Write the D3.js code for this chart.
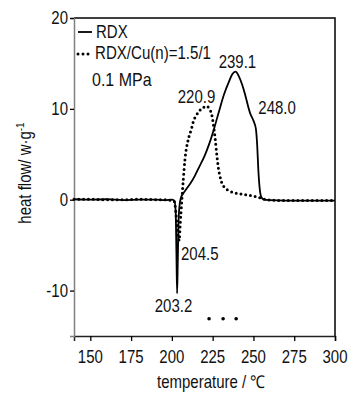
<!DOCTYPE html>
<html lang="en">
<head>
    <meta charset="UTF-8">
    <title>DSC curves</title>
    <script src="https://d3js.org/d3.v7.min.js"></script>
    <style>
        body { margin: 0; background: #fff; }
        text { font-family: "Liberation Sans", Arial, sans-serif; fill: #111; }
        .curve { fill: none; stroke: #000; stroke-linejoin: round; }
    </style>
</head>
<body>
<div id="chart"></div>
<script>
    // temperature (°C) / heat flow (W/g)
    const rdxT = [140, 150, 160, 170, 180, 190, 196, 200, 201.5, 202.3, 202.8, 203.2, 203.6, 204.0, 204.6, 205.5, 207, 209, 211, 214, 217, 220, 223, 226, 229, 232, 235, 237, 239.1, 241, 243, 245, 247, 248, 250, 251.5, 252.3, 253, 253.8, 254.6, 256, 260, 270, 280, 290, 300];
    const rdxQ = [0.05, 0.0, 0.05, -0.05, 0.0, 0.0, -0.05, 0.0, -0.1, -1.2, -6, -10.3, -7, -3, -0.8, 0.2, 0.7, 1.2, 1.7, 2.6, 3.7, 4.8, 6.2, 7.9, 9.8, 11.6, 13.0, 13.8, 14.1, 13.6, 12.7, 11.5, 10.1, 9.5, 8.7, 7.8, 6.0, 3.3, 1.3, 0.4, 0.05, -0.05, -0.1, -0.1, -0.1, -0.1];

    const cuT = [140, 150, 160, 170, 180, 190, 196, 201.5, 203, 204, 204.5, 205, 206, 207, 208, 210, 212, 213, 215, 217, 219, 221, 223, 224.5, 225.5, 226.5, 227.5, 228.5, 230, 232, 235, 240, 245, 250, 255, 258, 270, 280, 290, 300];
    const cuQ = [0.05, 0.05, 0.0, 0.0, 0.05, 0.0, 0.0, -0.2, -2.5, -4.1, -4.5, -3.0, -0.3, 2.2, 4.4, 6.6, 7.8, 8.5, 9.3, 9.8, 10.1, 10.3, 10.0, 9.3, 8.2, 6.8, 5.0, 3.5, 2.2, 1.4, 1.0, 0.7, 0.55, 0.4, 0.15, 0.0, -0.1, -0.1, -0.1, -0.1];

    const peakLabels = ["239.1", "220.9", "248.0", "204.5", "203.2"];
    const peakX = [240.2, 215.1, 264.5, 205.6, 201.0];
    const peakY = [14.5, 10.65, 9.4, -6.6, -12.4];

    const extraDotsT = [222.8, 231.4, 239.4];
    const extraDotsQ = [-13.1, -13.1, -13.1];

    const xTicks = [150, 175, 200, 225, 250, 275, 300];
    const yTicks = [-10, 0, 10, 20];

    const width = 353, height = 393;
    const margin = { top: 18, right: 18, bottom: 57, left: 74 };

    const svg = d3.select("#chart").append("svg")
        .attr("width", width)
        .attr("height", height);

    const x = d3.scaleLinear().domain([140, 300]).range([margin.left, width - margin.right]);
    const y = d3.scaleLinear().domain([-15, 20]).range([height - margin.bottom, margin.top]);

    // text is drawn a little taller than it is wide, like the original
    function label(txt, px, py, anchor, size) {
        return svg.append("text")
            .attr("transform", `translate(${px},${py}) scale(1,1.18)`)
            .attr("text-anchor", anchor || "start")
            .style("font-size", (size || 15) + "px")
            .text(txt);
    }

    // frame: top and right borders
    svg.append("path")
        .attr("d", `M${x(140)},${y(20)}H${x(300)}V${y(-15)}`)
        .attr("fill", "none")
        .attr("stroke", "#000")
        .attr("stroke-width", 1.5);

    // axes
    const xAxis = svg.append("g")
        .attr("transform", `translate(0,${y(-15)})`)
        .call(d3.axisBottom(x).tickValues(xTicks).tickSize(5).tickFormat(""));
    xAxis.select(".domain").attr("stroke", "#222").attr("stroke-width", 1.5);
    xAxis.selectAll(".tick line").attr("stroke-width", 1.3);

    const yAxis = svg.append("g")
        .attr("transform", `translate(${x(140)},0)`)
        .call(d3.axisLeft(y).tickValues(yTicks).tickSize(4).tickFormat(""));
    yAxis.select(".domain").attr("stroke", "#808080").attr("stroke-width", 1.5);
    yAxis.selectAll(".tick line").attr("stroke-width", 1.3);

    xTicks.forEach(t => label(t, x(t), y(-15) + 27, "middle"));
    yTicks.forEach(t => label(t, x(140) - 6, y(t) + 6, "end"));

    label("temperature / \u2103", 211, 388, "middle");

    const yTitle = svg.append("text")
        .attr("transform", `translate(31,${(y(20) + y(-15)) / 2 - 4}) rotate(-90) scale(1,1.18)`)
        .attr("text-anchor", "middle")
        .style("font-size", "15px");
    yTitle.append("tspan").text("heat flow/ w\u00b7g");
    yTitle.append("tspan").attr("dy", -6).style("font-size", "10px").text("-1");

    const line = d3.line()
        .x(d => x(d[0]))
        .y(d => y(d[1]))
        .curve(d3.curveMonotoneX);

    svg.append("path")
        .datum(rdxT.map((t, i) => [t, rdxQ[i]]))
        .attr("class", "curve")
        .attr("stroke-width", 1.8)
        .attr("d", line);

    svg.append("path")
        .datum(cuT.map((t, i) => [t, cuQ[i]]))
        .attr("class", "curve")
        .attr("stroke-width", 3)
        .attr("stroke-linecap", "round")
        .attr("stroke-dasharray", "0,4.8")
        .attr("d", line);

    // legend
    svg.append("line")
        .attr("x1", 78).attr("x2", 92).attr("y1", 32).attr("y2", 32)
        .attr("stroke", "#000").attr("stroke-width", 1.8);
    label("RDX", 96, 38);
    svg.append("line")
        .attr("x1", 78).attr("x2", 92).attr("y1", 54).attr("y2", 54)
        .attr("stroke", "#000").attr("stroke-width", 3)
        .attr("stroke-linecap", "round").attr("stroke-dasharray", "0,5");
    label("RDX/Cu(n)=1.5/1", 95, 59)
        .attr("textLength", 116)
        .attr("lengthAdjust", "spacingAndGlyphs");
    label("0.1 MPa", 92, 86, "start", 16);

    // peak temperatures
    peakLabels.forEach((s, i) => {
        label(s, x(peakX[i]), y(peakY[i]), i === 3 ? "start" : "middle");
    });

    svg.selectAll(".extra-dot")
        .data(extraDotsT.map((t, i) => [t, extraDotsQ[i]]))
        .enter().append("circle")
        .attr("cx", d => x(d[0]))
        .attr("cy", d => y(d[1]))
        .attr("r", 1.8)
        .attr("fill", "#000");
</script>
</body>
</html>
